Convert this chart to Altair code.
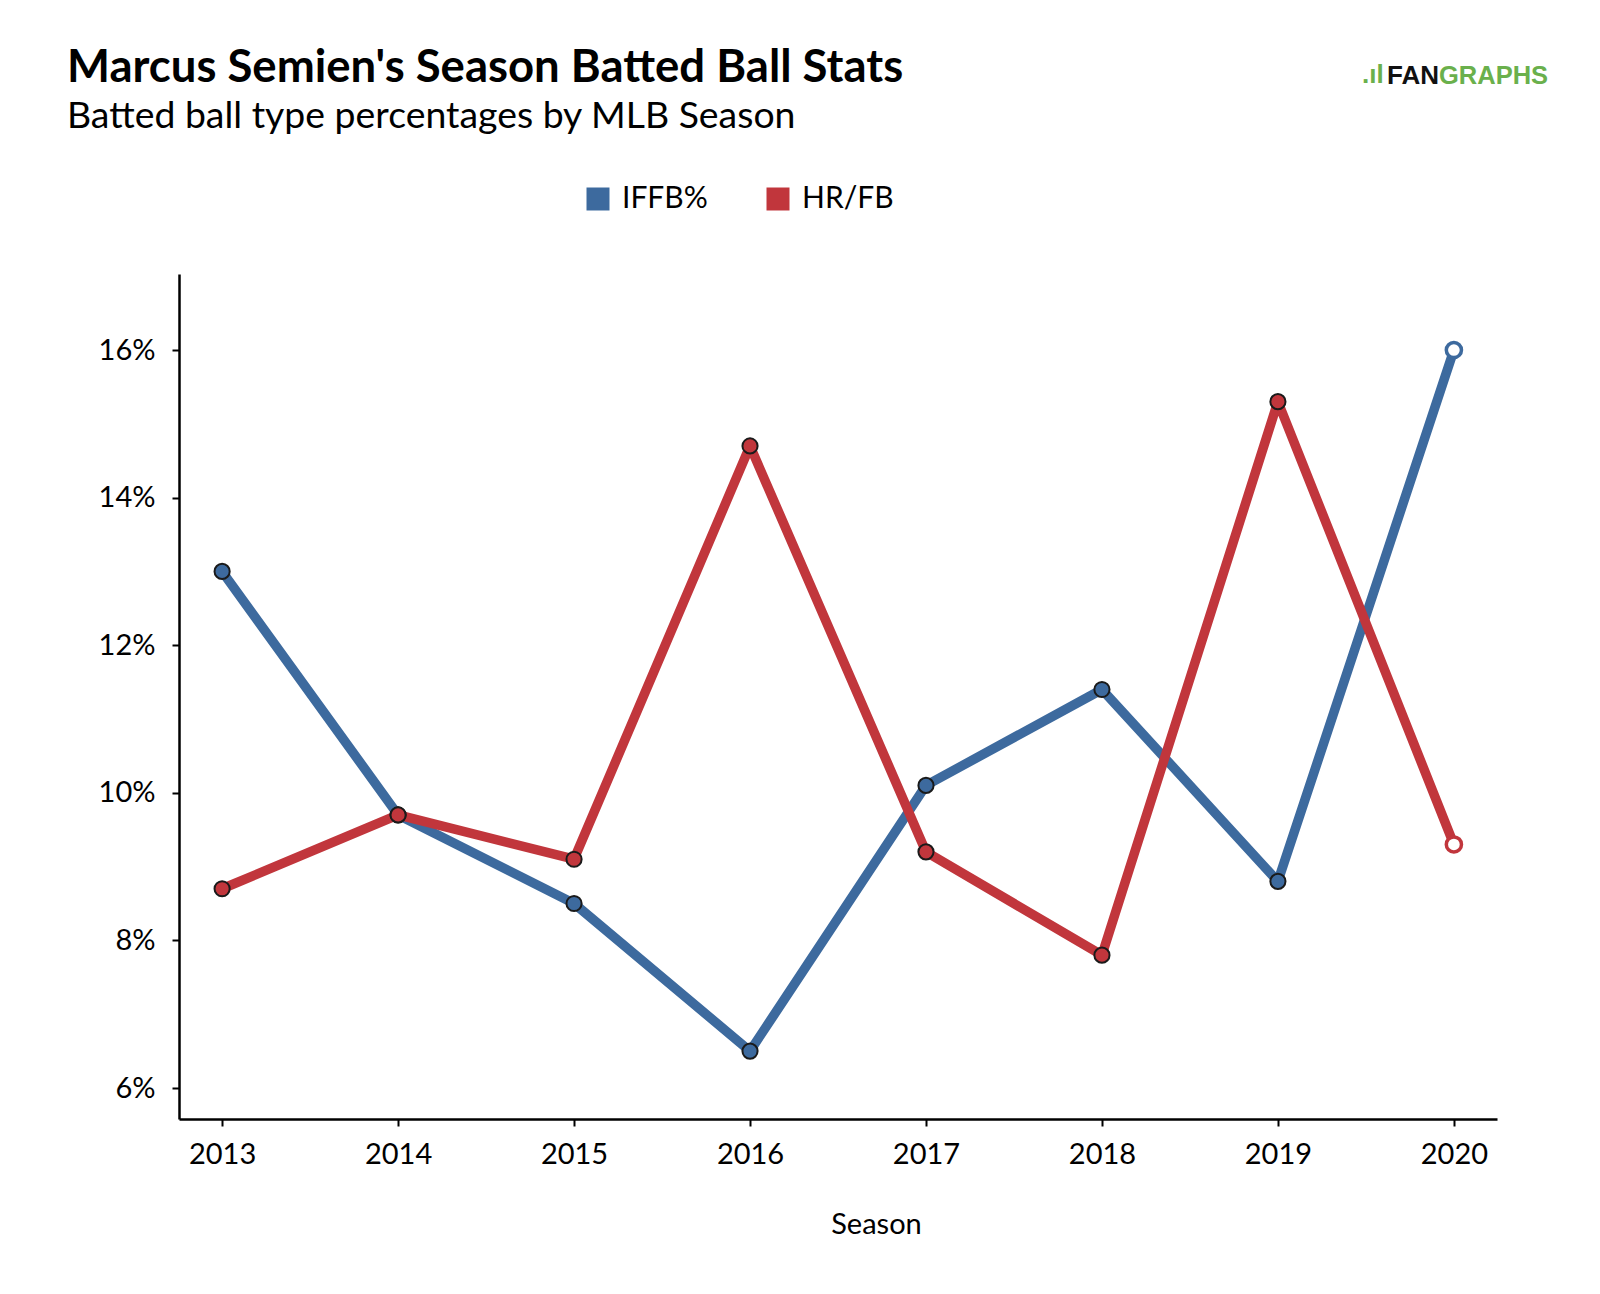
import altair as alt
import pandas as pd

seasons = [2013, 2014, 2015, 2016, 2017, 2018, 2019, 2020]
iffb = [13.0, 9.7, 8.5, 6.5, 10.1, 11.4, 8.8, 16.0]
hrfb = [8.7, 9.7, 9.1, 14.7, 9.2, 7.8, 15.3, 9.3]
series = ["IFFB%", "HR/FB"]
colors = ["#3d6a9e", "#c1363c"]
y_ticks = [6, 8, 10, 12, 14, 16]

rows = []
for name, vals in zip(series, [iffb, hrfb]):
    for s, v in zip(seasons, vals):
        rows.append({"season": s, "stat": name, "value": v})
df = pd.DataFrame(rows)

FONT = "Lato"
cs = alt.Scale(domain=series, range=colors)

x = alt.X("season:O", scale=alt.Scale(type="point", padding=0.245),
          axis=alt.Axis(title="Season", labelAngle=0, labelFontSize=29, labelFont=FONT,
                        labelColor="black", labelPadding=14, tickSize=7, tickWidth=2,
                        tickColor="black", domainColor="black", domainWidth=2.5,
                        titleFont=FONT, titleFontSize=29, titleFontWeight="normal",
                        titleColor="black", titleX=697, titleY=114,
                        titleBaseline="alphabetic", titleAlign="center"))
y = alt.Y("value:Q", scale=alt.Scale(domain=[5.58, 17.03], nice=False, zero=False),
          axis=alt.Axis(title=None, values=y_ticks, labelExpr="datum.value + '%'",
                        grid=False, labelFontSize=29, labelFont=FONT, labelColor="black",
                        labelPadding=17, tickSize=7, tickWidth=2, tickColor="black",
                        domainColor="black", domainWidth=2.5))

base = alt.Chart(df)

lines = base.mark_line(strokeWidth=9.5, strokeJoin="round").encode(
    x=x, y=y,
    color=alt.Color("stat:N", scale=cs, legend=None, sort=series),
)

points = base.transform_filter("datum.season < 2020").mark_point(
    filled=True, size=230, opacity=1, stroke="#1a1a1a", strokeWidth=2
).encode(
    x=x, y=y,
    fill=alt.Fill("stat:N", scale=cs, sort=series,
                  legend=alt.Legend(orient="none", legendX=404, legendY=-90,
                                    direction="horizontal", title=None,
                                    symbolType="square", symbolSize=529,
                                    symbolStrokeWidth=0, labelFontSize=30,
                                    labelFont=FONT, labelColor="black",
                                    labelOffset=9, columnPadding=55, padding=0)),
)

hollow = base.transform_filter("datum.season == 2020").mark_point(
    filled=True, fill="white", size=230, opacity=1, strokeWidth=3.5
).encode(
    x=x, y=y,
    stroke=alt.Stroke("stat:N", scale=cs, legend=None, sort=series),
)


def txt(text, px, py, size, weight="normal", color="black", font=FONT, align="left"):
    return alt.Chart(pd.DataFrame({"t": [text]})).mark_text(
        align=align, baseline="alphabetic", fontSize=size, fontWeight=weight,
        font=font, color=color
    ).encode(x=alt.value(px), y=alt.value(py), text="t:N")


title = txt("Marcus Semien's Season Batted Ball Stats", -112, -192, 45.5, "bold")
subtitle = txt("Batted ball type percentages by MLB Season", -112, -146, 37.4)
logo1 = txt(".\u0131l", 1183, -191, 26, "bold", "#6ab04c", "Liberation Sans", "left")
logo2 = txt("FAN", 1260, -190, 26, "bold", "#111111", "Liberation Sans", "right")
logo3 = txt("GRAPHS", 1260, -190, 25.5, "bold", "#6ab04c", "Liberation Sans", "left")

chart = alt.layer(lines, points, hollow, title, subtitle, logo1, logo2, logo3).resolve_legend(
    fill="independent", stroke="independent", color="independent"
).properties(
    width=1318, height=845,
    background="white",
    autosize=alt.AutoSizeParams(type="none"),
    padding={"left": 171, "top": 266, "right": 60, "bottom": 150},
).configure_view(stroke="transparent", strokeWidth=0)

chart.save("out.html", embed_options={"renderer": "svg", "actions": False})
